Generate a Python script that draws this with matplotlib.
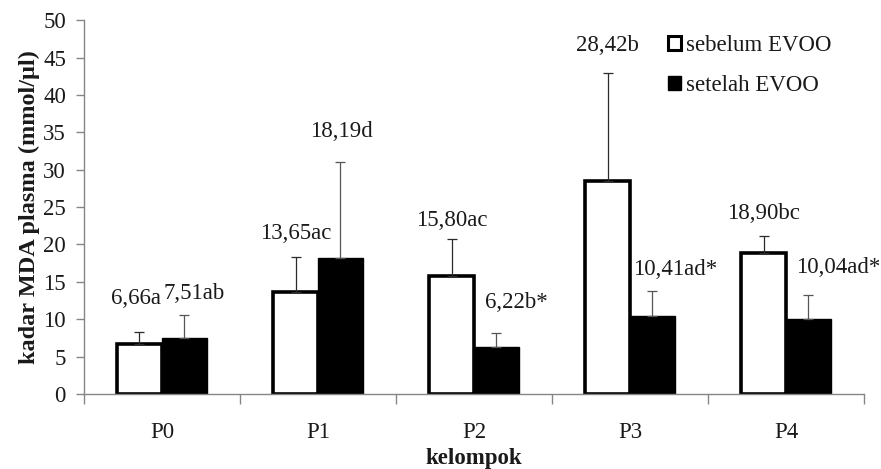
import numpy as np
import matplotlib
matplotlib.use("Agg")
import matplotlib.pyplot as plt
from matplotlib.patches import Patch
from matplotlib.ticker import MultipleLocator

plt.rcParams['font.family'] = ['Liberation Serif', 'DejaVu Serif']

# data
groups = ['P0', 'P1', 'P2', 'P3', 'P4']
sebelum = [6.66, 13.65, 15.80, 28.42, 18.90]
setelah = [7.51, 18.19, 6.22, 10.41, 10.04]
sd_sebelum = [1.6, 4.65, 4.9, 14.5, 2.2]
sd_setelah = [3.05, 12.9, 1.95, 3.4, 3.2]
lab_sebelum = ['6,66a', '13,65ac', '15,80ac', '28,42b', '18,90bc']
lab_setelah = ['7,51ab', '18,19d', '6,22b*', '10,41ad*', '10,04ad*']

# label nudges in pixels (from top of error bar)
off_sebelum = [(-3, 34), (0, 24), (0, 19), (0, 28), (0, 23)]
off_setelah = [(10, 22), (1, 30), (20, 30), (23, 21), (30, 27)]

txt = '#1a1a1a'
grey = '#868686'
fs = 16.5

fig = plt.figure(figsize=(8.81, 4.69), dpi=100)
ax = fig.add_axes([0.0953, 0.16, 0.8854, 0.797])

x = np.arange(len(groups))
w = 0.288

ax.bar(x - w / 2, sebelum, w, color='white', edgecolor='black', linewidth=2.6, zorder=2)
ax.bar(x + w / 2, setelah, w, color='black', edgecolor='black', linewidth=1, zorder=2)

zeros = np.zeros(len(groups))
ax.errorbar(x - w / 2, sebelum, yerr=[zeros, sd_sebelum], fmt='none', ecolor='#2a2a2a',
            elinewidth=0.9, capsize=3.5, capthick=0.9, zorder=3)
ax.errorbar(x + w / 2, setelah, yerr=[zeros, sd_setelah], fmt='none', ecolor='#555555',
            elinewidth=0.9, capsize=3.5, capthick=0.9, zorder=3)

# data labels
for i in range(len(groups)):
    ax.annotate(lab_sebelum[i], (x[i] - w / 2, sebelum[i] + sd_sebelum[i]),
                xytext=off_sebelum[i], textcoords='offset pixels',
                ha='center', va='center', fontsize=fs, color=txt)
    ax.annotate(lab_setelah[i], (x[i] + w / 2, setelah[i] + sd_setelah[i]),
                xytext=off_setelah[i], textcoords='offset pixels',
                ha='center', va='center', fontsize=fs, color=txt)

ax.set_xlim(-0.5, len(groups) - 0.5)
ax.set_ylim(0, 50)
ax.yaxis.set_major_locator(MultipleLocator(5))

ax.set_xticks(x)
ax.set_xticklabels(groups)
ax.set_xticks(np.arange(-0.5, len(groups)), minor=True)
ax.tick_params(axis='x', which='major', length=0, pad=20, labelsize=fs, labelcolor=txt)
ax.tick_params(axis='x', which='minor', length=7, color=grey, width=1)
ax.tick_params(axis='y', length=6, color=grey, width=1, labelsize=fs, labelcolor=txt, pad=7)

for s in ['top', 'right']:
    ax.spines[s].set_visible(False)
for s in ['left', 'bottom']:
    ax.spines[s].set_color(grey)
    ax.spines[s].set_linewidth(1)
    ax.spines[s].set_zorder(4)

ax.set_xlabel('kelompok', fontsize=fs, fontweight='bold', color=txt, labelpad=4)
ax.set_ylabel('kadar MDA plasma (mmol/µl)', fontsize=17.5, fontweight='bold', color=txt, labelpad=2)

handles = [Patch(facecolor='white', edgecolor='black', linewidth=2.2, label='sebelum EVOO'),
           Patch(facecolor='black', edgecolor='black', label='setelah EVOO')]
ax.legend(handles=handles, loc='upper left', bbox_to_anchor=(0.722, 1.015), frameon=False,
          fontsize=fs, handlelength=0.58, handleheight=0.58, handletextpad=0.22,
          labelspacing=0.82, labelcolor=txt)

fig.savefig('out.png', dpi=100)
